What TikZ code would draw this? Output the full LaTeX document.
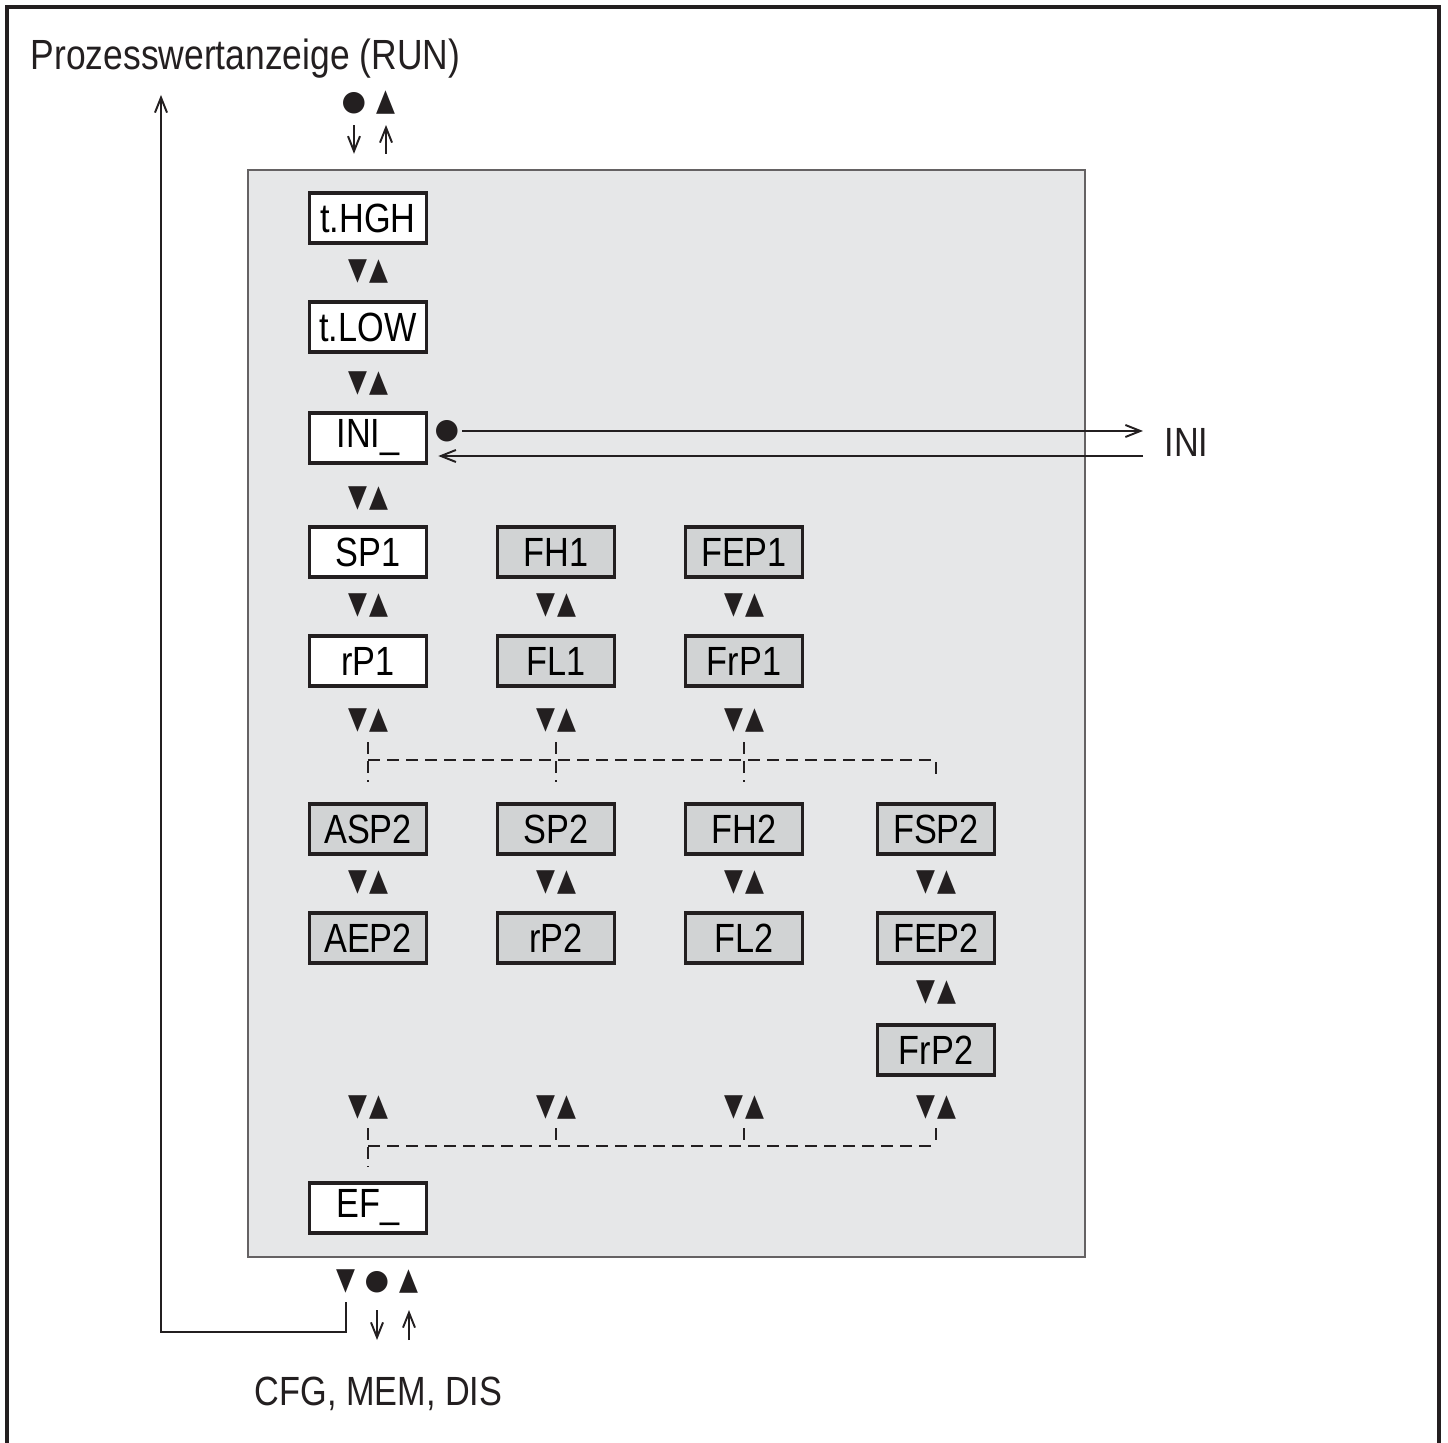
\documentclass[tikz,border=0pt]{standalone}
\usepackage{fontspec}
\setmainfont[FakeStretch=0.84]{Liberation Sans}
\newfontfamily\symfont{DejaVu Sans}
\usetikzlibrary{arrows.meta,calc}
\pgfdeclarelayer{background}
\pgfsetlayers{background,main}
\definecolor{panelgray}{HTML}{E6E7E8}
\definecolor{boxgray}{HTML}{D1D3D4}
\definecolor{ink}{HTML}{231F20}
\newcommand{\tall}[1]{\scalebox{1}[1.25]{#1}}
\newcommand{\keypair}{\tall{▼}\kern0.6pt\tall{▲}}

\begin{document}
\begin{tikzpicture}[x=0.01cm,y=-0.01cm]
\tikzstyle{menu}=[draw=ink,line width=1pt,fill=white,minimum width=1.17cm,minimum height=0.5cm,inner sep=0pt,font=\fontsize{11.6}{12}\selectfont]
\tikzstyle{sub}=[menu,fill=boxgray]
\tikzstyle{keys}=[inner sep=0pt,text=ink,font=\symfont\fontsize{7}{7}\selectfont]
\tikzstyle{dot}=[inner sep=0pt,text=ink,font=\symfont\fontsize{8}{8}\selectfont]
\tikzstyle{lbl}=[inner sep=0pt,text=ink,font=\fontsize{11.6}{12}\selectfont]
\tikzstyle{dashline}=[ink,line width=0.55pt,dash pattern=on 0.12cm off 0.07cm]
\tikzstyle{tip}=[ink,line width=0.55pt,-{Straight Barb[length=0.15cm,width=0.12cm]}]
\useasboundingbox (0,0) rectangle (1448,1443);
\draw[ink,line width=1.2pt] (7,1443) -- (7,7) -- (1439,7) -- (1439,1443);

\begin{pgfonlayer}{background}
\node[draw=ink!70,fill=panelgray,line width=0.5pt,minimum width=8.37cm,minimum height=10.87cm,inner sep=0pt] (panel) at (666.5,713.5) {};
\end{pgfonlayer}

% first column
\node[menu] (thgh) at (368,218) {t.HGH};
\node[menu] (tlow) at (368,327) {t.LOW};
\node[menu] (ini) at (368,438) {INI\_};
\node[menu] (sp1) at (368,552) {SP1};
\node[menu] (rp1) at (368,661) {rP1};
\node[sub] (asp2) at (368,829) {ASP2};
\node[sub] (aep2) at (368,938) {AEP2};
\node[menu] (ef) at (368,1208) {EF\_};
% other columns
\node[sub] (fh1) at (556,552) {FH1};
\node[sub] (fl1) at (556,661) {FL1};
\node[sub] (sp2) at (556,829) {SP2};
\node[sub] (rp2) at (556,938) {rP2};
\node[sub] (fep1) at (744,552) {FEP1};
\node[sub] (frp1) at (744,661) {FrP1};
\node[sub] (fh2) at (744,829) {FH2};
\node[sub] (fl2) at (744,938) {FL2};
\node[sub] (fsp2) at (936,829) {FSP2};
\node[sub] (fep2) at (936,938) {FEP2};
\node[sub] (frp2) at (936,1050) {FrP2};

% keys
\foreach \y [count=\i] in {272,384,499}
  \node[keys] (ka\i) at (368,\y) {\keypair};
\foreach \x [count=\i] in {368,556,744} {
  \node[keys] (kb\i) at (\x,606) {\keypair};
  \node[keys] (kc\i) at (\x,721) {\keypair};
}
\foreach \x [count=\i] in {368,556,744,936} {
  \node[keys] (kd\i) at (\x,883) {\keypair};
  \node[keys] (ke\i) at (\x,1108) {\keypair};
}
\node[keys] (kf) at (936,993) {\keypair};

% dashed branches
\coordinate (hub1w) at (368,760);
\coordinate (hub1e) at (936,760);
\coordinate (hub2w) at (368,1146);
\coordinate (hub2e) at (936,1146);
\draw[dashline,shorten <=0.21cm,shorten >=0.47cm] (kc1.center) -- (asp2.center);
\draw[dashline,shorten <=0.21cm,shorten >=0.47cm] (kc2.center) -- (sp2.center);
\draw[dashline,shorten <=0.21cm,shorten >=0.47cm] (kc3.center) -- (fh2.center);
\draw[dashline] (hub1w) -- (hub1e) -- ([yshift=0.23cm]fsp2.north);
\foreach \i in {2,3,4}
  \draw[dashline,shorten <=0.2cm] (ke\i.center) -- (ke\i.center |- hub2w);
\draw[dashline,shorten <=0.2cm,shorten >=0.14cm] (ke1.center) -- (ef.north);
\draw[dashline] (hub2w) -- (hub2e);

% top: process value display
\node[lbl,anchor=base west,font=\fontsize{12}{12}\selectfont] (run) at (30,70) {Prozesswertanzeige (RUN)};
\coordinate (runin) at (161,95);
\node[dot] (rundot) at (354,103) {●};
\node[keys] (runup) at (386,103) {\tall{▲}};
\draw[tip,shorten <=0.22cm,shorten >=0.15cm] (rundot.center) -- (rundot.center |- panel.north);
\draw[tip,shorten <=0.15cm,shorten >=0.22cm] (runup.center |- panel.north) -- (runup.center);

% INI branch
\node[dot] (inidot) at (447,431) {●};
\node[lbl,anchor=base west] (initxt) at (1164,457) {INI};
\coordinate (iniback) at (1143,456);
\draw[tip,shorten <=0.15cm,shorten >=0.21cm] (inidot.center) -- (inidot.center -| initxt.west);
\draw[tip,shorten >=0.1cm] (iniback) -- (iniback -| ini.east);

% bottom
\node[keys] (efdn) at (346,1282) {\tall{▼}};
\node[dot] (efdot) at (377,1282) {●};
\node[keys] (efup) at (409,1282) {\tall{▲}};
\draw[tip,shorten <=0.28cm] (efdot.center) -- ++(0,58);
\draw[tip,shorten >=0.28cm] ([yshift=-0.58cm]efup.center) -- (efup.center);
\draw[tip] ([yshift=-0.2cm]efdn.center) -- ++(0,30) -| (runin);
\node[lbl,anchor=base west] (cfg) at (254,1405) {CFG, MEM, DIS};
\end{tikzpicture}
\end{document}
